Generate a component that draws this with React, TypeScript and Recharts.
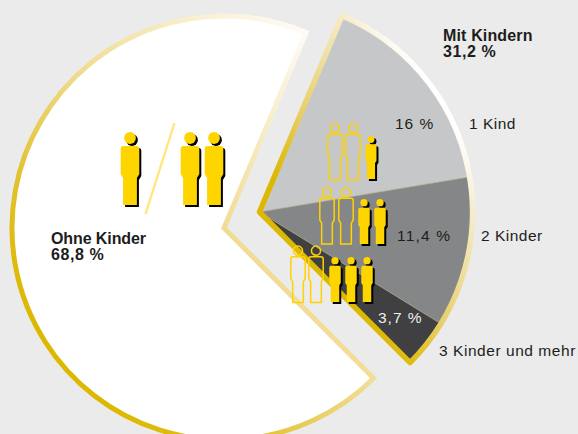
import { Cell, Pie, PieChart } from 'recharts'

// Shares in percent, as printed on the chart
const WITHOUT_CHILDREN = [68.8]
const WITH_CHILDREN_TOTAL = [31.2]
const CHILD_VALUES = [16, 11.4, 3.7]
const CHILD_COLORS = ['#c6c7c9', '#858688', '#403f41']

const START_ANGLE = 67.2
const SPLIT_END = -45

const SANS = '"Liberation Sans", Arial, sans-serif'
const YELLOW = '#ffd500'

// Figure drawn in a 73 unit high box, feet at the bottom
const BODY =
  'M-6.5 14H6.5Q9.3 14 9.3 17V42L6.9 46V73H-6.9V46L-9.3 42V17Q-9.3 14 -6.5 14Z'

function Person({
  cx,
  top,
  foot,
  outline,
}: {
  cx: number
  top: number
  foot: number
  outline?: boolean
}) {
  const k = (foot - top) / 73
  const shape = (color: string, dx: number) => (
    <g transform={`translate(${cx + dx} ${top + dx}) scale(${k})`} fill={color}>
      <circle cy={6} r={5.9} />
      <path d={BODY} />
    </g>
  )
  if (outline) {
    return (
      <g
        transform={`translate(${cx} ${top}) scale(${k})`}
        fill="none"
        stroke="#ffd200"
        strokeWidth={1.5 / k}
      >
        <circle cy={6} r={5.9} />
        <path d={BODY} />
      </g>
    )
  }
  return (
    <g>
      {shape('#000', 2)}
      {shape(YELLOW, 0)}
    </g>
  )
}

function Label({
  x,
  y,
  bold,
  tracking,
  fill = '#1d1d1b',
  children,
}: {
  x: number
  y: number
  bold?: boolean
  tracking?: number
  fill?: string
  children: string
}) {
  return (
    <text
      x={x}
      y={y}
      fill={fill}
      fontFamily={SANS}
      fontSize={bold ? 16 : 15.5}
      fontWeight={bold ? 700 : 400}
      letterSpacing={tracking ?? (bold ? 0.05 : 0.5)}
    >
      {children}
    </text>
  )
}

export default function App() {
  return (
    <div
      style={{
        position: 'fixed',
        left: 0,
        top: 0,
        width: 578,
        height: 434,
        background: '#ebebeb',
        overflow: 'hidden',
      }}
    >
      <svg width={0} height={0} style={{ position: 'absolute' }}>
        <defs>
          <linearGradient
            id="rimLeft"
            gradientUnits="userSpaceOnUse"
            x1={71}
            y1={364}
            x2={369}
            y2={97}
          >
            <stop offset="0" stopColor="#dcb800" />
            <stop offset="0.22" stopColor="#e2c330" />
            <stop offset="0.52" stopColor="#f0dd95" />
            <stop offset="1" stopColor="#fefcf6" />
          </linearGradient>
          <linearGradient
            id="rimRight"
            gradientUnits="userSpaceOnUse"
            x1={286}
            y1={195}
            x2={437}
            y2={95}
          >
            <stop offset="0" stopColor="#dcb800" />
            <stop offset="0.33" stopColor="#e8cf6a" />
            <stop offset="0.8" stopColor="#f5ebc8" />
            <stop offset="1" stopColor="#ffffff" />
          </linearGradient>
        </defs>
      </svg>

      <div style={{ position: 'absolute', left: 0, top: 0 }}>
        <PieChart width={578} height={434} margin={{ top: 0, right: 0, bottom: 0, left: 0 }}>
          <Pie
            data={WITHOUT_CHILDREN.map((value) => ({ value }))}
            dataKey="value"
            cx={224}
            cy={228}
            outerRadius={212}
            startAngle={START_ANGLE}
            endAngle={START_ANGLE + 360 * 0.688}
            fill="#ffffff"
            stroke="url(#rimLeft)"
            strokeWidth={5}
            strokeLinejoin="miter"
            isAnimationActive={false}
          />
          <Pie
            data={CHILD_VALUES.map((value) => ({ value }))}
            dataKey="value"
            cx={259.5}
            cy={212}
            outerRadius={213}
            startAngle={START_ANGLE}
            endAngle={SPLIT_END}
            stroke="#b8b08a"
            strokeWidth={0.5}
            isAnimationActive={false}
          >
            {CHILD_VALUES.map((value, i) => (
              <Cell key={value} fill={CHILD_COLORS[i]} />
            ))}
          </Pie>
          <Pie
            data={WITH_CHILDREN_TOTAL.map((value) => ({ value }))}
            dataKey="value"
            cx={259.5}
            cy={212}
            outerRadius={213}
            startAngle={START_ANGLE}
            endAngle={SPLIT_END}
            fill="none"
            stroke="url(#rimRight)"
            strokeWidth={5.5}
            strokeLinejoin="round"
            isAnimationActive={false}
          />
        </PieChart>
      </div>

      <svg
        width={578}
        height={434}
        style={{ position: 'absolute', left: 0, top: 0, pointerEvents: 'none' }}
      >
        <line x1={174.5} y1={123} x2={145.5} y2={214} stroke="#ffe680" strokeWidth={2.4} />
        <Person cx={130} top={132} foot={205} />
        <Person cx={190} top={132} foot={205} />
        <Person cx={214} top={132} foot={205} />

        <Person cx={335} top={123.5} foot={180} outline />
        <Person cx={353} top={123.5} foot={180} outline />
        <Person cx={371} top={136} foot={179} />

        <Person cx={327} top={187.5} foot={244} outline />
        <Person cx={346} top={187.5} foot={244} outline />
        <Person cx={364} top={199} foot={244} />
        <Person cx={380} top={199} foot={244} />

        <Person cx={298} top={246} foot={302.5} outline />
        <Person cx={316} top={246} foot={302.5} outline />
        <Person cx={335} top={257} foot={302} />
        <Person cx={351} top={257} foot={302} />
        <Person cx={367} top={257} foot={302} />

        <Label x={443} y={41} bold tracking={0.15}>Mit Kindern</Label>
        <Label x={443} y={57} bold tracking={0.6}>31,2 %</Label>
        <Label x={51} y={244} bold tracking={-0.1}>Ohne Kinder</Label>
        <Label x={51} y={260} bold tracking={0.6}>68,8 %</Label>
        <Label x={395} y={129} tracking={1}>16 %</Label>
        <Label x={469} y={129}>1 Kind</Label>
        <Label x={397} y={241} tracking={1.2}>11,4 %</Label>
        <Label x={481} y={241}>2 Kinder</Label>
        <Label x={378} y={323} fill="#eeeeee" tracking={1}>3,7 %</Label>
        <Label x={439} y={356} tracking={0.55}>3 Kinder und mehr</Label>
      </svg>
    </div>
  )
}
